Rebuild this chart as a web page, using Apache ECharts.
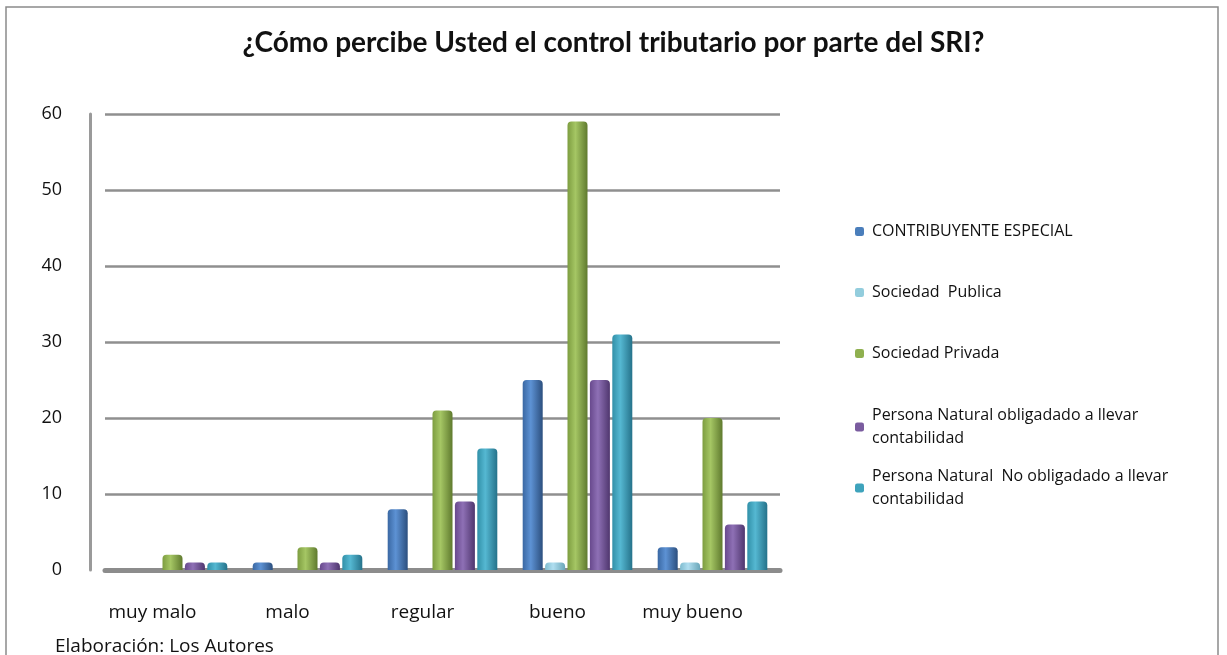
<!DOCTYPE html>
<html>
<head>
<meta charset="utf-8">
<script src="https://cdn.jsdelivr.net/npm/echarts@6/dist/echarts.min.js"></script>
<style>html,body{margin:0;padding:0;background:#fff}#c{width:1227px;height:655px}</style>
</head>
<body>
<div id="c"></div>
<script>
var categories = ['muy malo', 'malo', 'regular', 'bueno', 'muy bueno'];
var seriesNames = ['CONTRIBUYENTE ESPECIAL', 'Sociedad  Publica', 'Sociedad Privada', 'Persona Natural obligadado a llevar contabilidad', 'Persona Natural  No obligadado a llevar contabilidad'];
var legendLabels = ['CONTRIBUYENTE ESPECIAL', 'Sociedad  Publica', 'Sociedad Privada', 'Persona Natural obligadado a llevar\ncontabilidad', 'Persona Natural  No obligadado a llevar\ncontabilidad'];
var contribuyenteEspecial = [0, 1, 8, 25, 3];
var sociedadPublica = [0, 0, 0, 1, 1];
var sociedadPrivada = [2, 3, 21, 59, 20];
var personaObligado = [1, 1, 9, 25, 6];
var personaNoObligado = [1, 2, 16, 31, 9];
var yTicks = [0, 10, 20, 30, 40, 50, 60];

var allData = [contribuyenteEspecial, sociedadPublica, sociedadPrivada, personaObligado, personaNoObligado];
var baseColors = ['#4a7ebb', '#93cddd', '#8fb04f', '#7a5c9f', '#3ea3bc'];
var shades = [
  ['#3a68a3', '#5d92d4', '#2c4f7e'],
  ['#7fbccf', '#b0def0', '#6aa6b8'],
  ['#7d9d40', '#a5c664', '#5f7a2e'],
  ['#68498d', '#8e70b5', '#4f366e'],
  ['#3190a8', '#55b8d2', '#25728a']
];

var chart = echarts.init(document.getElementById('c'));
var series = allData.map(function (d, i) {
  return {
    name: seriesNames[i],
    type: 'bar',
    data: d,
    barWidth: 20,
    barGap: '12%',
    itemStyle: {
      color: new echarts.graphic.LinearGradient(0, 0, 1, 0, [
        {offset: 0, color: shades[i][0]},
        {offset: 0.4, color: shades[i][1]},
        {offset: 1, color: shades[i][2]}
      ]),
      borderRadius: [4, 4, 0, 0]
    }
  };
});

var legendTops = [215, 276, 337, 399, 460];
var legends = seriesNames.map(function (n, i) {
  return {
    left: 850,
    top: legendTops[i],
    orient: 'vertical',
    itemWidth: 9,
    itemHeight: 9,
    itemGap: 8,
    data: [{name: n, itemStyle: {color: baseColors[i]}}],
    formatter: function () { return legendLabels[i]; },
    textStyle: {fontFamily: 'Open Sans', fontSize: 16, color: '#111', lineHeight: 23, padding: [0, 0, 0, 3]}
  };
});

chart.setOption({
  animation: false,
  backgroundColor: '#fff',
  title: [
    {text: '¿Cómo percibe Usted el control tributario por parte del SRI?', left: 'center', top: 24,
     textStyle: {fontFamily: 'Lato', fontWeight: 'bold', fontSize: 28, color: '#111'}},
    {text: 'Elaboración: Los Autores', left: 50, top: 632,
     textStyle: {fontFamily: 'Open Sans', fontWeight: 'normal', fontSize: 19, color: '#111'}}
  ],
  graphic: [
    {type: 'rect', shape: {x: 6, y: 7, width: 1212, height: 700}, style: {fill: 'none', stroke: '#8a8a8a', lineWidth: 1.5}, silent: true}
  ],
  legend: legends,
  grid: {left: 105, top: 114, width: 675, bottom: 85},
  xAxis: {
    type: 'category',
    data: categories,
    axisLine: {show: true, lineStyle: {color: '#8c8c8c', width: 5}},
    axisTick: {show: false},
    axisLabel: {fontFamily: 'Open Sans', fontSize: 19, color: '#111', margin: 33, padding: [0, 40, 0, 0]}
  },
  yAxis: {
    type: 'value',
    min: 0,
    max: 60,
    interval: 10,
    offset: 15,
    axisLine: {show: true, lineStyle: {color: '#9a9a9a', width: 3}},
    axisTick: {show: false},
    axisLabel: {fontFamily: 'Open Sans', fontSize: 18, color: '#111', margin: 28,
      formatter: function (v) { return yTicks.indexOf(v) >= 0 ? String(v) : ''; }},
    splitLine: {show: true, lineStyle: {color: '#8f8f8f', width: 2.5}}
  },
  series: series
});
</script>
</body>
</html>
